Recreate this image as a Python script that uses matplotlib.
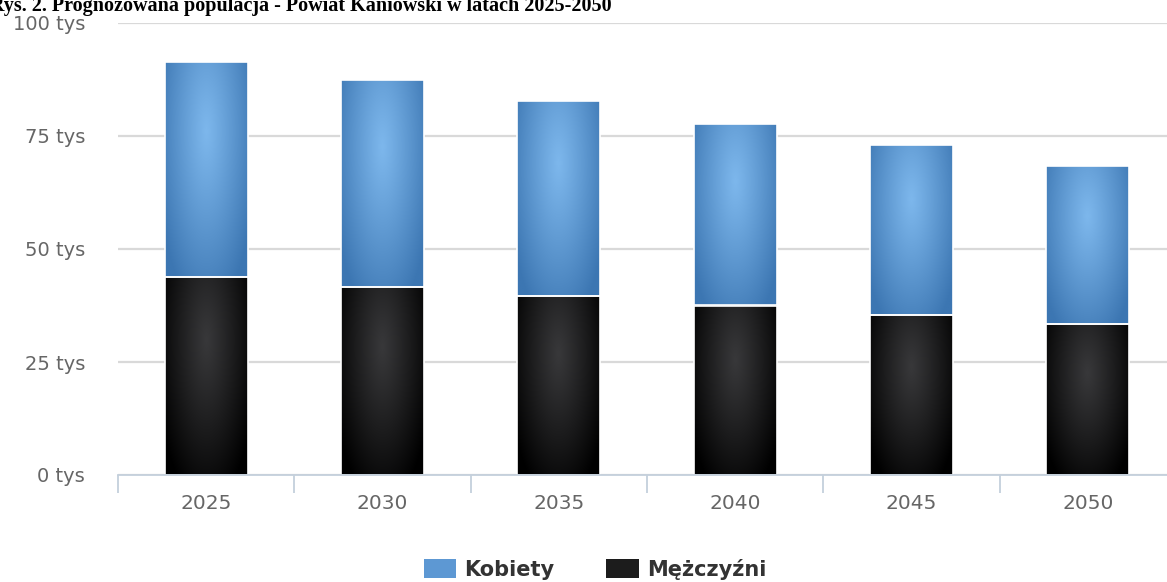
import numpy as np
import matplotlib
matplotlib.use("Agg")
import matplotlib.pyplot as plt
from matplotlib.patches import Patch

years = ["2025", "2030", "2035", "2040", "2045", "2050"]
mezczyzni = [43.9, 41.7, 39.5, 37.5, 35.3, 33.3]
kobiety = [47.5, 45.7, 43.2, 40.1, 37.7, 35.0]
y_ticks = [0, 25, 50, 75, 100]
y_labels = ["0 tys", "25 tys", "50 tys", "75 tys", "100 tys"]
title = "Rys. 2. Prognozowana populacja - Powiat Kaniowski w latach 2025-2050"

W, H = 1167, 582
fig = plt.figure(figsize=(W / 100, H / 100), dpi=100)
ax = fig.add_axes([118 / W, 1 - 475 / H, (1176 - 118) / W, (475 - 23) / H])

x = np.arange(len(years))
bw = 0.47

def gradient_img(center, edge, n=120):
    u = np.linspace(0, 1, n)
    v = np.linspace(0, 1, n)
    U, V = np.meshgrid(u, v)
    r = np.sqrt(((U - 0.5) / 0.62) ** 2 + ((V - 0.32) / 0.85) ** 2)
    r = np.clip(r, 0, 1) ** 1.1
    c = np.array(center)[None, None, :]
    e = np.array(edge)[None, None, :]
    return c * (1 - r[..., None]) + e * r[..., None]

def hex2rgb(h):
    h = h.lstrip('#')
    return [int(h[i:i + 2], 16) / 255 for i in (0, 2, 4)]

blue_img = gradient_img(hex2rgb('#7db7ec'), hex2rgb('#3c76b2'))
black_img = gradient_img(hex2rgb('#38383a'), hex2rgb('#000000'))

bars_m = ax.bar(x, mezczyzni, width=bw, color='none', edgecolor='white', linewidth=1.2, zorder=3)
bars_k = ax.bar(x, kobiety, width=bw, bottom=mezczyzni, color='none', edgecolor='white', linewidth=1.2, zorder=3)

for bars, img in ((bars_m, black_img), (bars_k, blue_img)):
    for b in bars:
        x0, y0 = b.get_x(), b.get_y()
        w, h = b.get_width(), b.get_height()
        im = ax.imshow(img, extent=[x0, x0 + w, y0, y0 + h], origin='upper',
                       aspect='auto', zorder=2, interpolation='bilinear')
        im.set_clip_path(b)

ax.set_xlim(-0.5, len(years) - 0.5)
ax.set_ylim(0, 100)

ax.set_yticks(y_ticks)
ax.set_yticklabels(y_labels)
ax.set_xticks(x)
ax.set_xticklabels(years)
ax.set_xticks(np.arange(len(years) + 1) - 0.5, minor=True)

ax.tick_params(axis='y', length=0, pad=23.8, labelsize=14, labelcolor='#666666')
ax.tick_params(axis='x', which='major', length=0, pad=14, labelsize=14.5, labelcolor='#666666')
ax.tick_params(axis='x', which='minor', length=13, width=1.3, color='#c4d0dc')

ax.grid(axis='y', color='#d9d9d9', linewidth=1.6, zorder=0)
ax.set_axisbelow(True)
for s in ('top', 'right', 'left'):
    ax.spines[s].set_visible(False)
ax.spines['bottom'].set_color('#c4d0dc')
ax.spines['bottom'].set_linewidth(1.3)
ax.spines['bottom'].set_zorder(4)

fig.text(-10 / W, 1 - 11 / H, title, fontsize=14.5, fontweight='bold',
         family='Liberation Serif', va='baseline', ha='left', color='black')

handles = [Patch(facecolor='#5d98d3', edgecolor='none', label='Kobiety'),
           Patch(facecolor='#1c1c1c', edgecolor='none', label='Mężczyźni')]
leg = fig.legend(handles=handles, loc='center', bbox_to_anchor=(595 / W, 1 - 569 / H),
                 ncol=2, frameon=False, handlelength=1.55, handleheight=1.05,
                 handletextpad=0.4, columnspacing=2.5,
                 prop={'size': 15, 'weight': 'bold', 'family': 'DejaVu Sans'})
for t in leg.get_texts():
    t.set_color('#333333')

fig.savefig('out.png', dpi=100)
